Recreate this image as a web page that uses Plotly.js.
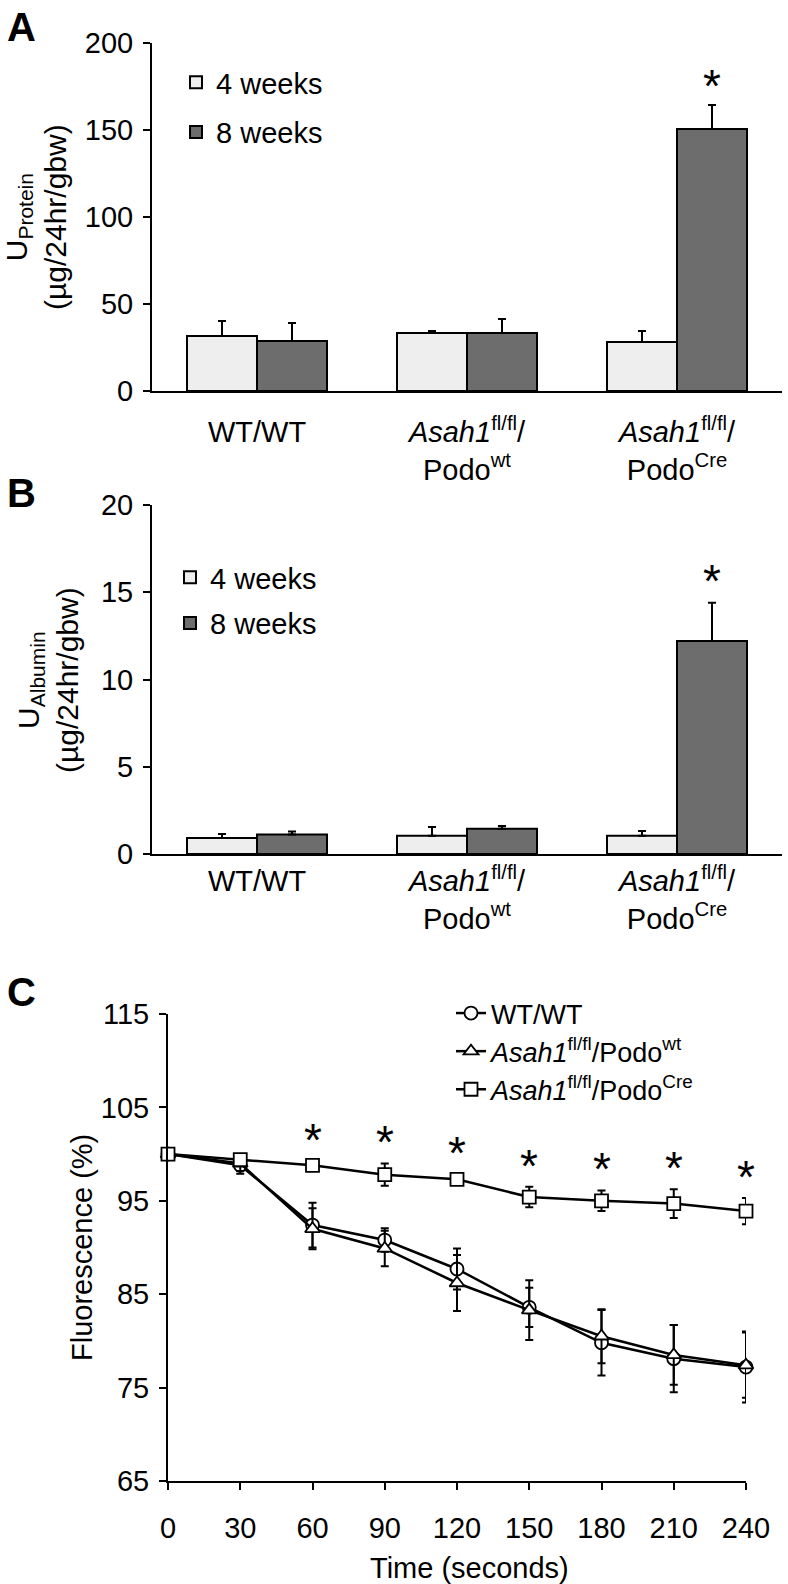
<!DOCTYPE html>
<html><head><meta charset="utf-8">
<script src="https://cdn.plot.ly/plotly-3.0.1.min.js"></script>
<style>html,body{margin:0;padding:0;background:#fff;}#chart{width:788px;height:1584px;}</style>
</head><body><div id="chart"></div>
<script>
// ---- data ----
const groupPos = [0, 1, 2];
const groupLabels = ['WT/WT', '<i>Asah1</i><sup>fl/fl</sup>/<br>Podo<sup>wt</sup>', '<i>Asah1</i><sup>fl/fl</sup>/<br>Podo<sup>Cre</sup>'];
const seriesNames = ['4 weeks', '8 weeks'];

const protein4wk = [31.6, 33.3, 28.2];
const protein4wkErr = [8.6, 1.2, 6.3];
const protein8wk = [28.7, 33.3, 150.6];
const protein8wkErr = [10.4, 8.1, 13.8];

const albumin4wk = [0.92, 1.05, 1.05];
const albumin4wkErr = [0.22, 0.5, 0.27];
const albumin8wk = [1.12, 1.45, 12.2];
const albumin8wkErr = [0.17, 0.16, 2.2];

const timeSec = [0, 30, 60, 90, 120, 150, 180, 210, 240];
const fluoWT = [100, 98.8, 92.4, 90.8, 87.7, 83.6, 79.8, 78.1, 77.2];
const fluoWTErr = [0, 0.9, 2.4, 1.25, 2.2, 2.1, 3.5, 3.6, 3.8];
const fluoPodoWt = [100, 99.0, 92.0, 89.9, 86.2, 83.3, 80.5, 78.5, 77.4];
const fluoPodoWtErr = [0, 0.8, 2.2, 1.9, 3.0, 3.2, 2.9, 3.2, 3.5];
const fluoPodoCre = [100, 99.4, 98.8, 97.8, 97.3, 95.4, 95.0, 94.7, 93.9];
const fluoPodoCreErr = [0, 0.5, 0.4, 1.2, 0.5, 1.1, 1.1, 1.55, 1.4];
const fluoStars = ['', '', '*', '*', '*', '*', '*', '*', '*'];
const lineNames = ['WT/WT', '<i>Asah1</i><sup>fl/fl</sup>/Podo<sup>wt</sup>', '<i>Asah1</i><sup>fl/fl</sup>/Podo<sup>Cre</sup>'];

// ---- style ----
const W = 788, H = 1584;
const FONT = 'Liberation Sans, Arial, sans-serif';
const light = '#eeeeee', dark = '#6d6d6d';
const px = v => v / W;
const py = v => 1 - v / H;

function barTrace(y, err, name, color, xa, ya, lg, group) {
  return {
    type: 'bar', x: groupPos, y: y, name: name, xaxis: xa, yaxis: ya, legend: lg, legendgroup: group,
    marker: {color: color, line: {color: '#000', width: 2}},
    error_y: {type: 'data', symmetric: false, array: err, arrayminus: err.map(() => 0), color: '#000', thickness: 2, width: 4},
    hoverinfo: 'skip'
  };
}

function lineTrace(y, err, name, symbol) {
  return {
    type: 'scatter', mode: 'lines+markers', x: timeSec, y: y, name: name,
    xaxis: 'x3', yaxis: 'y3', legend: 'legend3', cliponaxis: false,
    line: {color: '#000', width: 2.5},
    marker: {symbol: symbol, size: 13, color: '#fff', line: {color: '#000', width: 1.8}},
    error_y: {type: 'data', array: err, color: '#000', thickness: 2, width: 4},
    hoverinfo: 'skip'
  };
}

const data = [
  barTrace(protein4wk, protein4wkErr, seriesNames[0], light, 'x', 'y', 'legend', 'a4'),
  barTrace(protein8wk, protein8wkErr, seriesNames[1], dark, 'x', 'y', 'legend', 'a8'),
  barTrace(albumin4wk, albumin4wkErr, seriesNames[0], light, 'x2', 'y2', 'legend2', 'b4'),
  barTrace(albumin8wk, albumin8wkErr, seriesNames[1], dark, 'x2', 'y2', 'legend2', 'b8'),
  lineTrace(fluoWT, fluoWTErr, lineNames[0], 'circle'),
  lineTrace(fluoPodoWt, fluoPodoWtErr, lineNames[1], 'triangle-up'),
  lineTrace(fluoPodoCre, fluoPodoCreErr, lineNames[2], 'square')
];

const tickFont = {family: FONT, size: 29, color: '#000'};
function xBar(domain, anchor, standoff) {
  return {domain: domain, anchor: anchor, range: [-0.5, 2.5], showgrid: false, zeroline: false,
    showline: true, linecolor: '#000', linewidth: 2, ticks: '', tickvals: groupPos, ticktext: groupLabels,
    tickfont: tickFont, ticklabelstandoff: standoff, fixedrange: true};
}
function numAxis(domain, anchor, range, dtick) {
  return {domain: domain, anchor: anchor, range: range, tick0: range[0], dtick: dtick, showgrid: false, zeroline: false,
    showline: true, linecolor: '#000', linewidth: 2, ticks: 'outside', ticklen: 7, tickwidth: 2, tickcolor: '#000',
    tickfont: tickFont, ticklabelstandoff: 4, fixedrange: true};
}

const legendBase = {xanchor: 'left', yanchor: 'top', bgcolor: 'rgba(0,0,0,0)', borderwidth: 0,
  font: {family: FONT, size: 29, color: '#000'}, traceorder: 'grouped'};

const annotations = [];
function addText(text, x, y, size, opts) {
  annotations.push(Object.assign({text: text, x: x, y: y, xref: 'paper', yref: 'paper', showarrow: false,
    font: {family: FONT, size: size, color: '#000'}}, opts || {}));
}
// panel letters
addText('<b>A</b>', px(5), py(3), 40, {xanchor: 'left', yanchor: 'top'});
addText('<b>B</b>', px(5), py(469), 40, {xanchor: 'left', yanchor: 'top'});
addText('<b>C</b>', px(5), py(968), 40, {xanchor: 'left', yanchor: 'top'});
// axis titles
addText('U<sub>Protein</sub><br>(µg/24hr/gbw)', px(36), py(217), 30, {textangle: -90, xanchor: 'center', yanchor: 'middle'});
addText('U<sub>Albumin</sub><br>(µg/24hr/gbw)', px(48), py(680), 30, {textangle: -90, xanchor: 'center', yanchor: 'middle'});
addText('Fluorescence (%)', px(82), py(1248), 29, {textangle: -90, xanchor: 'center', yanchor: 'middle'});
addText('Time (seconds)', px(469), py(1568), 29, {xanchor: 'center', yanchor: 'middle'});

// significance stars
const starFont = {family: FONT, size: 46, color: '#000'};
annotations.push({text: '*', xref: 'x', yref: 'y', x: 2 + 1/6, y: protein8wk[2] + protein8wkErr[2] + 16.6,
  showarrow: false, font: starFont, yanchor: 'middle', yshift: -10});
annotations.push({text: '*', xref: 'x2', yref: 'y2', x: 2 + 1/6, y: albumin8wk[2] + albumin8wkErr[2] + 1.8,
  showarrow: false, font: starFont, yanchor: 'middle', yshift: -10});
fluoStars.forEach((s, i) => {
  if (s) annotations.push({text: s, xref: 'x3', yref: 'y3', x: timeSec[i], y: fluoPodoCre[i] + fluoPodoCreErr[i] + 2.6,
    showarrow: false, font: starFont, yanchor: 'middle', yshift: -3});
});

const layout = {
  width: W, height: H, margin: {l: 0, r: 0, t: 0, b: 0}, paper_bgcolor: '#fff', plot_bgcolor: 'rgba(0,0,0,0)',
  font: {family: FONT, color: '#000'},
  barmode: 'group', bargap: 1/3, bargroupgap: 0,
  xaxis: xBar([px(152), px(782)], 'y', 14),
  yaxis: numAxis([py(391), py(43)], 'x', [0, 200], 50),
  xaxis2: xBar([px(152), px(782)], 'y2', 0),
  yaxis2: numAxis([py(854), py(505)], 'x2', [0, 20], 5),
  xaxis3: Object.assign(numAxis([px(168), px(746)], 'y3', [0, 240], 30), {ticklabelstandoff: 13}),
  yaxis3: numAxis([py(1481), py(1014)], 'x3', [65, 115], 10),
  legend: Object.assign({}, legendBase, {x: px(176), y: py(57), tracegroupgap: 9}),
  legend2: Object.assign({}, legendBase, {x: px(170), y: py(552), tracegroupgap: 5}),
  legend3: Object.assign({}, legendBase, {x: px(451), y: py(989), traceorder: 'normal', font: {family: FONT, size: 27, color: '#000'}}),
  annotations: annotations,
  showlegend: true
};

Plotly.newPlot('chart', data, layout, {displayModeBar: false, staticPlot: true});
</script></body></html>
